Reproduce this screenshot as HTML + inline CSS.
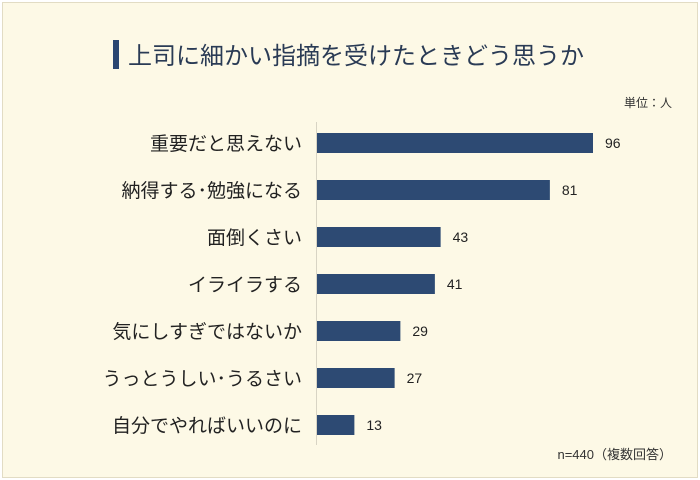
<!DOCTYPE html>
<html><head><meta charset="utf-8"><style>
body{margin:0;width:700px;height:480px;background:#fff;font-family:"Liberation Sans","Noto Sans CJK JP",sans-serif;}
#frame{position:absolute;left:2px;top:2px;width:694px;height:474px;background:#fdf9e6;border:1px solid #e2dcc4;}
</style></head><body>
<div id="frame"></div>
<svg id="c" width="700" height="480" style="position:absolute;left:0;top:0">
<rect x="113" y="40" width="6" height="29" fill="#2a4670"/>
<text x="128" y="64" font-size="24" fill="#2a3b55" font-family="Liberation Sans, Noto Sans CJK JP, sans-serif">上司に細かい指摘を受けたときどう思うか</text>
<text x="672" y="107" font-size="12" fill="#333" text-anchor="end" font-family="Liberation Sans, Noto Sans CJK JP, sans-serif">単位：人</text>
<text x="672" y="459" font-size="13" fill="#333" text-anchor="end" font-family="Liberation Sans, Noto Sans CJK JP, sans-serif">n=440（複数回答）</text>
<line x1="316.5" y1="122" x2="316.5" y2="445" stroke="#d8d4c4"/>
<g id="bars"></g>
</svg>
<script>
const categories=["重要だと思えない","納得する･勉強になる","面倒くさい","イライラする","気にしすぎではないか","うっとうしい･うるさい","自分でやればいいのに"];
const values=[96,81,43,41,29,27,13];
const x0=317,scale=276/96,y0=143,step=47,h=20;
const xs=v=>x0+v*scale, ys=i=>y0+i*step;
const g=document.getElementById('bars');const ns="http://www.w3.org/2000/svg";
categories.forEach((c,i)=>{
 const r=document.createElementNS(ns,'rect');
 r.setAttribute('x',x0);r.setAttribute('y',ys(i)-h/2);r.setAttribute('width',xs(values[i])-x0);r.setAttribute('height',h);r.setAttribute('fill','#2d4a73');
 
 
 g.appendChild(r);
 const t=document.createElementNS(ns,'text');
 t.setAttribute('x',302);t.setAttribute('y',ys(i)+7);t.setAttribute('text-anchor','end');t.setAttribute('font-size','19');t.setAttribute('fill','#222');
 t.setAttribute('font-family','Liberation Sans, Noto Sans CJK JP, sans-serif');t.textContent=c;
 
 
 g.appendChild(t);
 const v=document.createElementNS(ns,'text');
 v.setAttribute('x',xs(values[i])+12);v.setAttribute('y',ys(i)+5);v.setAttribute('font-size','14');v.setAttribute('fill','#222');
 v.setAttribute('font-family','Liberation Sans, sans-serif');v.textContent=values[i];
 
 
 g.appendChild(v);
});
</script>
</body></html>
